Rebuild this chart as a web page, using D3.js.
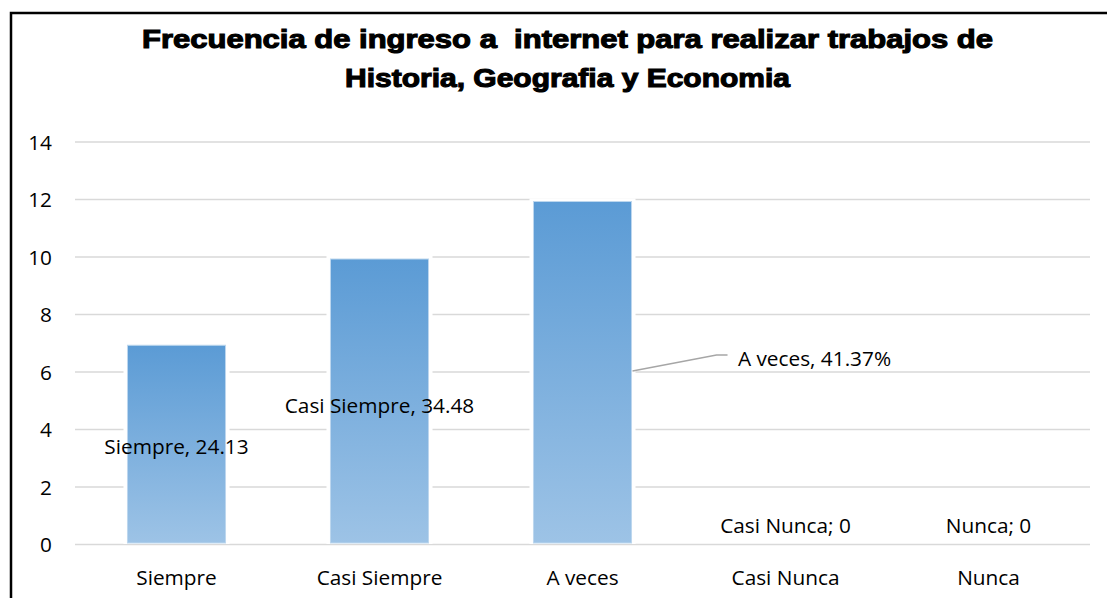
<!DOCTYPE html>
<html>
<head>
<meta charset="utf-8">
<script src="https://cdn.jsdelivr.net/npm/d3@7/dist/d3.min.js"></script>
<style>
html,body{margin:0;padding:0;background:#fff;}
svg{display:block;}
</style>
</head>
<body>
<svg id="chart" width="1107" height="598"></svg>
<script>
const categories = ["Siempre", "Casi Siempre", "A veces", "Casi Nunca", "Nunca"];
const values = [7, 10, 12, 0, 0];
const dataLabels = ["Siempre, 24.13", "Casi Siempre, 34.48", "A veces, 41.37%", "Casi Nunca; 0", "Nunca; 0"];
const yTicks = [0, 2, 4, 6, 8, 10, 12, 14];
const titleLines = ["Frecuencia de ingreso a  internet para realizar trabajos de", "Historia, Geografia y Economia"];

(function () {
const svg = d3.select("#chart");
const pLeft = 75, pRight = 1090, pTop = 142, pBottom = 544.5;
const FONT = "'Open Sans', Lato, sans-serif";
const FS = 20.8;

const defs = svg.append("defs");
const grad = defs.append("linearGradient").attr("id", "barGrad")
  .attr("x1", 0).attr("y1", 0).attr("x2", 0).attr("y2", 1);
grad.append("stop").attr("offset", "0%").attr("stop-color", "#5b9bd5");
grad.append("stop").attr("offset", "100%").attr("stop-color", "#9dc3e6");

const x = d3.scaleBand().domain(categories).range([pLeft, pRight]).paddingInner(0.517).paddingOuter(0.2585);
const y = d3.scaleLinear().domain([0, 14]).range([pBottom, pTop]);

// gridlines
svg.append("g").selectAll("line").data(yTicks).join("line")
  .attr("x1", pLeft).attr("x2", pRight)
  .attr("y1", d => y(d)).attr("y2", d => y(d))
  .attr("stroke", "#d9d9d9").attr("stroke-width", 1.5);

// y axis labels
const yAxis = d3.axisLeft(y).tickValues(yTicks).tickSize(0).tickPadding(0);
const gy = svg.append("g").attr("transform", "translate(52,0)").call(yAxis);
gy.select(".domain").remove();
gy.selectAll("text").attr("font-family", FONT).attr("font-size", FS).attr("fill", "#000").attr("dy", "0.35em");

// bars: white halo then gradient
const bars = svg.append("g");
bars.selectAll("rect.halo").data(values).join("rect").attr("class", "halo")
  .attr("x", (d, i) => x(categories[i]) - 4)
  .attr("width", x.bandwidth() + 8)
  .attr("y", d => y(d) - 1)
  .attr("height", d => d > 0 ? y(0) - y(d) + 0.5 : 0)
  .attr("fill", "#fff");
bars.selectAll("rect.bar").data(values).join("rect").attr("class", "bar")
  .attr("x", (d, i) => x(categories[i]))
  .attr("width", x.bandwidth())
  .attr("y", d => y(d) + 2)
  .attr("height", d => d > 0 ? y(0) - y(d) - 3.5 : 0)
  .attr("fill", "url(#barGrad)")
  .attr("stroke", "#bdd7ee").attr("stroke-width", 1);

// x axis labels
const xAxis = d3.axisBottom(x).tickSize(0).tickPadding(0);
const gx = svg.append("g").attr("transform", "translate(0,570)").call(xAxis);
gx.select(".domain").remove();
gx.selectAll("text").attr("font-family", FONT).attr("font-size", FS).attr("fill", "#000").attr("dy", "0.35em").attr("y", 8);

// data labels
const labelPos = [
  {dx: 0, y: 447},
  {dx: 0, y: 406},
  {dx: 232, y: 359},
  {dx: 0, y: 526},
  {dx: 0, y: 526}
];
svg.append("g").selectAll("text").data(dataLabels).join("text")
  .attr("x", (d, i) => x(categories[i]) + x.bandwidth() / 2 + labelPos[i].dx)
  .attr("y", (d, i) => labelPos[i].y)
  .attr("dy", "0.35em")
  .attr("text-anchor", "middle")
  .attr("font-family", FONT).attr("font-size", FS)
  .attr("fill", "#000")
  .text(d => d);

// leader line for A veces
const bx = x("A veces") + x.bandwidth();
svg.append("path")
  .attr("d", `M${bx + 1},${y(6) - 1} L${bx + 85},${355} L${bx + 96},${355}`)
  .attr("fill", "none").attr("stroke", "#a6a6a6").attr("stroke-width", 1.3);

// title
const titleLen = [851, 445];
svg.append("g").selectAll("text").data(titleLines).join("text")
  .attr("x", (d, i) => 567.5 - titleLen[i] / 2).attr("y", (d, i) => 48 + i * 38.5)
  .attr("xml:space", "preserve").style("white-space", "pre")
  .attr("textLength", (d, i) => titleLen[i]).attr("lengthAdjust", "spacingAndGlyphs")
  .attr("font-family", "'Liberation Sans', Arial, sans-serif")
  .attr("font-weight", "bold").attr("font-size", 26)
  .attr("fill", "#000").attr("stroke", "#000").attr("stroke-width", 1.1)
  .text(d => d);

// border
svg.append("rect").attr("x", 11).attr("y", 13).attr("width", 1200).attr("height", 700)
  .attr("fill", "none").attr("stroke", "#000").attr("stroke-width", 2.5);
})();
</script>
</body>
</html>
